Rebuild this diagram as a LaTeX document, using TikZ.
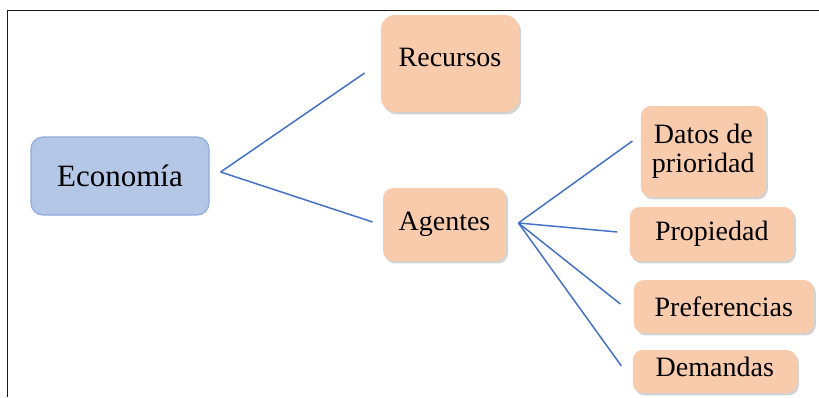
\documentclass[tikz,border=0pt]{standalone}
\usepackage{fontspec}
\setmainfont{Liberation Serif}
\usetikzlibrary{positioning,shadows}
\definecolor{ecoblue}{HTML}{B4C7E7}
\definecolor{ecoline}{HTML}{8FAADC}
\definecolor{peach}{HTML}{F8CBAD}
\definecolor{linkblue}{HTML}{4472C4}

\begin{document}
\begin{tikzpicture}[x=0.5pt,y=-0.5pt,align=center,inner sep=0pt]
\tikzstyle{root}=[draw=ecoline, line width=0.6pt, fill=ecoblue, rounded corners=6pt, font=\fontsize{15.5}{18}\selectfont]
\tikzstyle{leaf}=[fill=peach, rounded corners=5pt, font=\fontsize{14}{14.5}\selectfont,
  drop shadow={shadow xshift=1pt, shadow yshift=-1.2pt, opacity=0.35}]
\tikzstyle{link}=[color=linkblue, line width=0.75pt]
\useasboundingbox (0,0) rectangle (819,397);
% frame
\draw[line width=0.7pt, black!90] (7.5,397) -- (7.5,10.3) -- (819,10.3);

\node[root, minimum width=89pt, minimum height=39pt] (eco) at (120,176) {Econom\'ia};
\node[leaf, minimum width=69pt, minimum height=48.5pt, rounded corners=7pt, text depth=6pt][right=85.5pt of eco, yshift=56.25pt] (rec) {Recursos};
\node[leaf, minimum width=61.5pt, minimum height=36.5pt][right=86.5pt of eco, yshift=-24.25pt] (agt) {Agentes};
\node[leaf, minimum width=62.5pt, minimum height=45.5pt][right=67pt of agt, yshift=36.5pt] (dat) {Datos de\\prioridad};
\node[leaf, minimum width=82pt, minimum height=27pt][right=61.5pt of agt, yshift=-4.75pt] (prop) {Propiedad};
\node[leaf, minimum width=90pt, minimum height=26.5pt][right=63.5pt of agt, yshift=-41pt] (pref) {Preferencias};
\node[leaf, minimum width=82pt, minimum height=21.5pt, text depth=5pt][right=63pt of agt, yshift=-73.5pt] (dem) {Demandas};

\path[link] ([shift={(5.5pt,2pt)}]eco.east)
      edge ([shift={(-8pt,-4.75pt)}]rec.west)
      edge ([shift={(-5pt,1.25pt)}]agt.west);
\path[link] ([shift={(6pt,0.75pt)}]agt.east)
      edge ([shift={(-4pt,5.25pt)}]dat.west)
      edge ([shift={(-6pt,1pt)}]prop.west)
      edge ([shift={(-6.5pt,1.25pt)}]pref.west)
      edge ([shift={(-5.5pt,2.75pt)}]dem.west);
\end{tikzpicture}
\end{document}
